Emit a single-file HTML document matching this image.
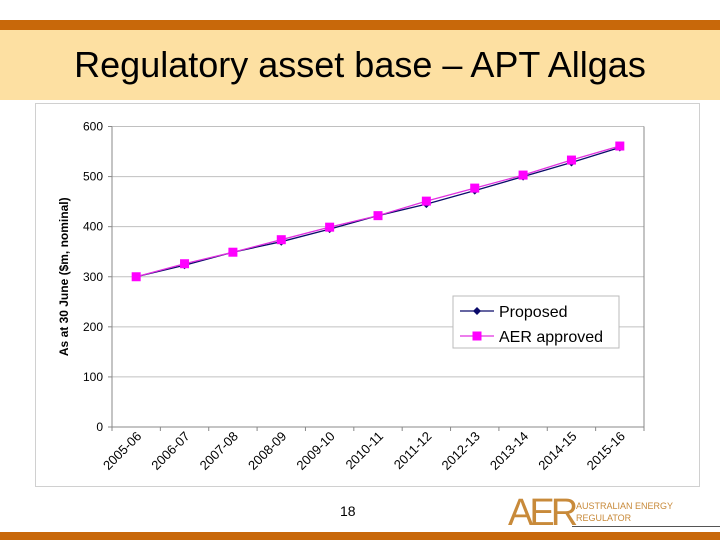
<!DOCTYPE html>
<html><head><meta charset="utf-8"><style>
body{margin:0;width:720px;height:540px;overflow:hidden;background:#fff;font-family:"Liberation Sans",sans-serif;position:relative}
.a{position:absolute}
</style></head><body>
<div class="a" style="left:0;top:20px;width:720px;height:10px;background:#c8680a"></div>
<div class="a" style="left:0;top:30px;width:720px;height:70px;background:#fde0a2"></div>
<div class="a" style="left:0;top:44px;width:720px;text-align:center;font-size:36px;color:#000">Regulatory asset base – APT Allgas</div>
<div class="a" style="left:35px;top:103px;width:665px;height:384px;border:1px solid #d0d0d0;box-sizing:border-box"></div>
<svg class="a" style="left:0;top:0" width="720" height="540">
<g id="g"></g>
</svg>
<div class="a" style="left:340px;top:503px;font-size:14px">18</div>
<div class="a" style="left:508px;top:496px;font-size:38px;color:#c88a3a;font-family:'Liberation Sans',sans-serif;letter-spacing:-4px;line-height:34px">AER</div>
<div class="a" style="left:576px;top:500px;font-size:9px;color:#c88a3a;line-height:12px">AUSTRALIAN ENERGY<br>REGULATOR</div>
<div class="a" style="left:572px;top:526px;width:148px;height:1px;background:#555"></div>
<div class="a" style="left:0;top:532px;width:720px;height:8px;background:#c8680a"></div>
<script>
const categories=["2005-06","2006-07","2007-08","2008-09","2009-10","2010-11","2011-12","2012-13","2013-14","2014-15","2015-16"];
const proposed=[300,323,349,370,395,422,445,472,500,528,558];
const approved=[300,326,349,374,399,422,451,477,503,533,561];
const yTicks=[0,100,200,300,400,500,600];
const L=112,R=644,T=126.5,B=427;
const bw=(R-L)/categories.length;
const x=i=>L+bw*(i+0.5);
const y=v=>B-(v/600)*(B-T);
const g=document.getElementById('g');
const NS='http://www.w3.org/2000/svg';
function mk(t,a){const e=document.createElementNS(NS,t);for(const k in a)e.setAttribute(k,a[k]);g.appendChild(e);return e;}
yTicks.forEach(v=>{
 const l=mk('line',{x1:L,x2:R,y1:y(v),y2:y(v),stroke:v==0?'#888':'#c0c0c0','stroke-width':1});
 
 
 mk('line',{x1:L-4,x2:L,y1:y(v),y2:y(v),stroke:'#888'});
 const t=mk('text',{x:L-9,y:y(v)+4,'text-anchor':'end','font-size':12,'font-family':'Liberation Sans, sans-serif'});
 t.textContent=v;
 
 
});
mk('line',{x1:L,x2:L,y1:T,y2:B,stroke:'#888'});
mk('line',{x1:R,x2:R,y1:T,y2:B,stroke:'#888'});
categories.forEach((c,i)=>{
 mk('line',{x1:L+bw*i,x2:L+bw*i,y1:B,y2:B+4,stroke:'#888'});
 const t=mk('text',{transform:`translate(${x(i)+6},${B+10}) rotate(-45)`,'text-anchor':'end','font-size':13,'font-family':'Liberation Sans, sans-serif'});
 t.textContent=c;
 
 
});
mk('line',{x1:R,x2:R,y1:B,y2:B+4,stroke:'#888'});
const yt=mk('text',{transform:`translate(68,${(T+B)/2}) rotate(-90)`,'text-anchor':'middle','font-size':12,'font-weight':'bold','font-family':'Liberation Sans, sans-serif'});
yt.textContent='As at 30 June ($m, nominal)';


const p1=mk('polyline',{points:proposed.map((v,i)=>x(i)+','+y(v)).join(' '),fill:'none',stroke:'#0a0a6a','stroke-width':1.3});


proposed.forEach((v,i)=>{const d=mk('path',{d:`M${x(i)},${y(v)-4}l4,4l-4,4l-4,-4z`,fill:'#0a0a6a'});
 
 });
const p2=mk('polyline',{points:approved.map((v,i)=>x(i)+','+y(v)).join(' '),fill:'none',stroke:'#e030e0','stroke-width':1.3});


approved.forEach((v,i)=>{const r=mk('rect',{x:x(i)-4.5,y:y(v)-4.5,width:9,height:9,fill:'#ff00ff'});
 
 });
const lg=mk('rect',{x:453,y:296,width:166,height:52,fill:'#fff',stroke:'#bbb'});


mk('line',{x1:460,x2:494,y1:311,y2:311,stroke:'#0a0a6a','stroke-width':1.3});
mk('path',{d:'M477,307l4,4l-4,4l-4,-4z',fill:'#0a0a6a'});
mk('line',{x1:460,x2:494,y1:336,y2:336,stroke:'#e030e0','stroke-width':1.3});
mk('rect',{x:472.5,y:331.5,width:9,height:9,fill:'#ff00ff'});
[['Proposed',317],['AER approved',342]].forEach(([s,yy])=>{const t=mk('text',{x:499,y:yy,'font-size':16,'font-family':'Liberation Sans, sans-serif'});t.textContent=s;
 
 });
</script>
</body></html>
